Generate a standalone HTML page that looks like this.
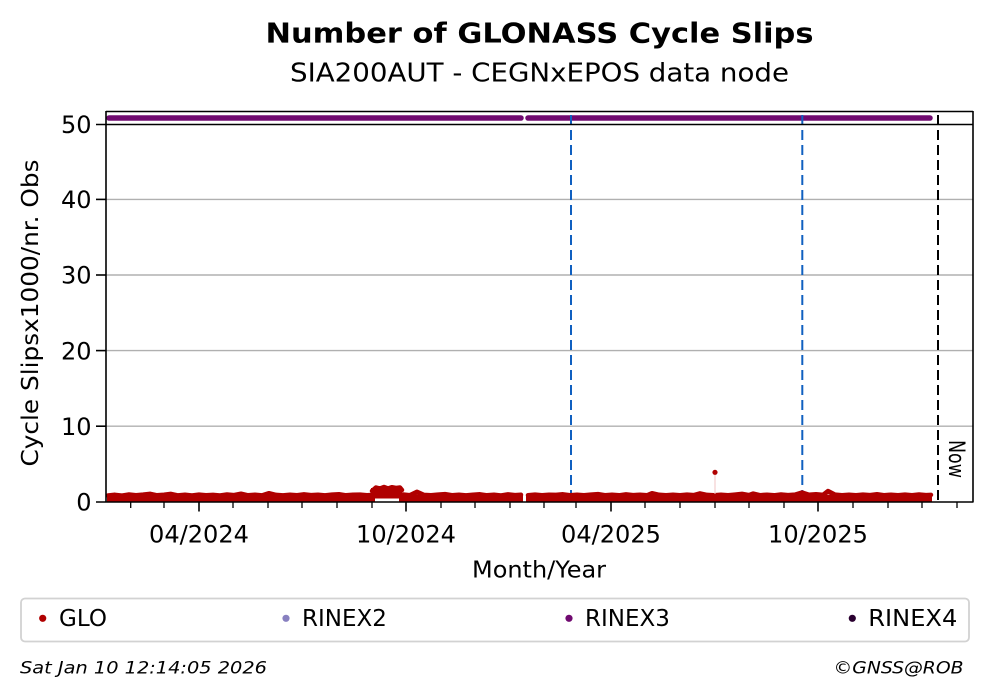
<!DOCTYPE html>
<html>
<head>
<meta charset="utf-8">
<style>
  html, body { margin: 0; padding: 0; background: #ffffff; }
  svg { display: block; }
  text { font-family: "DejaVu Sans", "Liberation Sans", sans-serif; fill: #000; }
</style>
</head>
<body>
<svg width="992" height="699" viewBox="0 0 992 699" xmlns="http://www.w3.org/2000/svg">
  <rect x="0" y="0" width="992" height="699" fill="#ffffff"/>

  <!-- Titles -->
  <text x="539.5" y="42.5" font-size="28" font-weight="bold" text-anchor="middle" textLength="548" lengthAdjust="spacingAndGlyphs">Number of GLONASS Cycle Slips</text>
  <text x="539.5" y="81.5" font-size="26" text-anchor="middle" textLength="499" lengthAdjust="spacingAndGlyphs">SIA200AUT - CEGNxEPOS data node</text>

  <!-- Gridlines -->
  <g stroke="#b0b0b0" stroke-width="1.4">
    <line x1="106" y1="199.4" x2="973" y2="199.4"/>
    <line x1="106" y1="275" x2="973" y2="275"/>
    <line x1="106" y1="350.6" x2="973" y2="350.6"/>
    <line x1="106" y1="426.2" x2="973" y2="426.2"/>
  </g>

  <!-- Purple RINEX3 strip -->
  <g stroke="#700a70" stroke-width="5.5" stroke-linecap="round">
    <line x1="109" y1="118" x2="521" y2="118"/>
    <line x1="528" y1="118" x2="930" y2="118"/>
  </g>

  <!-- Vertical dashed lines -->
  <g stroke-width="2" stroke-dasharray="10,5" fill="none">
    <line x1="571" y1="115" x2="571" y2="502" stroke="#1060c0"/>
    <line x1="802.3" y1="115" x2="802.3" y2="502" stroke="#1060c0"/>
    <line x1="938" y1="115" x2="938" y2="502" stroke="#000000"/>
  </g>

  <!-- Red GLO data -->
  <g fill="#b00000">
    <rect x="107" y="494.5" width="265" height="7.5"/>
    <rect x="371" y="488" width="31" height="10.5"/>
    <rect x="371" y="495" width="4" height="7"/>
    <rect x="399" y="495" width="4" height="7"/>
    <rect x="402" y="494.5" width="121" height="7.5"/>
    <rect x="526" y="494.5" width="406" height="7.5"/>
  </g>
  <g fill="none" stroke="#b00000" stroke-width="4.5" stroke-linejoin="round" stroke-linecap="round">
    <polyline points="108,495.5 115,494.8 122,495.6 129,494.5 136,495.2 143,494.6 150,493.8 157,495.3 164,494.7 171,493.9 178,495.4 185,494.8 192,495.5 199,494.6 206,495.2 213,494.9 220,495.5 227,494.5 234,495.1 241,493.7 248,495.3 255,494.8 262,495.4 269,493.2 276,494.9 283,495.4 290,494.7 297,495.2 304,494.3 311,495.1 318,494.8 325,495.4 332,494.6 339,494.2 346,495.3 353,494.8 360,494.6 367,495.2 371,495"/>
    <polyline points="372,491 376,487.5 380,488.5 384,487 388,488.5 392,487.2 396,488 400,487.5 402,490"/>
    <polyline points="403,494.5 410,495.2 417,491.8 424,494.9 431,495.3 438,494.6 445,494.1 452,495.2 459,494.8 466,495.4 473,494.7 480,494.3 487,495.3 494,494.8 501,495.5 508,494.4 515,495.1 521,494.8"/>
    <polyline points="528,495.2 535,494.6 542,495.3 549,494.7 556,494.9 563,494.3 570,495.2 577,494.8 584,495.3 591,494.6 598,494.1 605,495.2 612,494.7 619,495.3 626,494.4 633,495.1 640,494.8 647,495.3 652,493.2 659,494.8 666,495.3 673,494.7 680,495.2 687,494.6 694,495.1 700,493.4 707,494.9 714,495.3 721,494.7 728,495.2 735,494.6 742,493.9 749,495.1 753,493.6 760,495.2 767,494.7 774,495.3 781,494.5 788,495.1 795,494.6 802,492.5 809,494.8 816,494.2 823,494.9 828,491 835,494.6 842,495.2 849,494.7 856,495.3 863,494.6 870,495.1 877,494.2 884,495.2 891,494.7 898,495.3 905,494.6 912,495.2 919,494.5 926,495.1 931,494.9"/>
  </g>
  <line x1="715" y1="473" x2="715" y2="494" stroke="#f0c4c4" stroke-width="1"/>
  <circle cx="715" cy="472.3" r="2.6" fill="#b00000"/>

  <!-- Axes spines -->
  <g stroke="#000" stroke-width="1.6" fill="none">
    <line x1="106" y1="111.5" x2="973" y2="111.5"/>
    <line x1="96" y1="124.5" x2="973" y2="124.5"/>
    <line x1="106" y1="111" x2="106" y2="502.5"/>
    <line x1="973" y1="111" x2="973" y2="502.5"/>
    <line x1="96" y1="502" x2="973" y2="502"/>
  </g>

  <!-- Y ticks -->
  <g stroke="#000" stroke-width="1.6">
    <line x1="96" y1="199.4" x2="106" y2="199.4"/>
    <line x1="96" y1="275" x2="106" y2="275"/>
    <line x1="96" y1="350.6" x2="106" y2="350.6"/>
    <line x1="96" y1="426.2" x2="106" y2="426.2"/>
  </g>
  <g font-size="24" text-anchor="end">
    <text x="91.5" y="133">50</text>
    <text x="91.5" y="208">40</text>
    <text x="91.5" y="283.7">30</text>
    <text x="91.5" y="359.3">20</text>
    <text x="91.5" y="435">10</text>
    <text x="91.5" y="510.7">0</text>
  </g>

  <!-- X ticks -->
  <g stroke="#000" stroke-width="1.6">
    <line x1="199" y1="502" x2="199" y2="511.5"/>
    <line x1="406" y1="502" x2="406" y2="511.5"/>
    <line x1="611" y1="502" x2="611" y2="511.5"/>
    <line x1="818" y1="502" x2="818" y2="511.5"/>
  </g>
  <g stroke="#000" stroke-width="1.3">
    <line x1="130.7" y1="502" x2="130.7" y2="508"/>
    <line x1="164" y1="502" x2="164" y2="508"/>
    <line x1="233" y1="502" x2="233" y2="508"/>
    <line x1="268" y1="502" x2="268" y2="508"/>
    <line x1="302" y1="502" x2="302" y2="508"/>
    <line x1="337" y1="502" x2="337" y2="508"/>
    <line x1="372" y1="502" x2="372" y2="508"/>
    <line x1="441" y1="502" x2="441" y2="508"/>
    <line x1="475" y1="502" x2="475" y2="508"/>
    <line x1="510" y1="502" x2="510" y2="508"/>
    <line x1="544" y1="502" x2="544" y2="508"/>
    <line x1="576" y1="502" x2="576" y2="508"/>
    <line x1="645" y1="502" x2="645" y2="508"/>
    <line x1="680" y1="502" x2="680" y2="508"/>
    <line x1="715" y1="502" x2="715" y2="508"/>
    <line x1="749" y1="502" x2="749" y2="508"/>
    <line x1="784" y1="502" x2="784" y2="508"/>
    <line x1="853" y1="502" x2="853" y2="508"/>
    <line x1="888" y1="502" x2="888" y2="508"/>
    <line x1="922" y1="502" x2="922" y2="508"/>
    <line x1="957" y1="502" x2="957" y2="508"/>
  </g>
  <g font-size="24" text-anchor="middle">
    <text x="199" y="542.7" textLength="100" lengthAdjust="spacingAndGlyphs">04/2024</text>
    <text x="406" y="542.7" textLength="100" lengthAdjust="spacingAndGlyphs">10/2024</text>
    <text x="611" y="542.7" textLength="100" lengthAdjust="spacingAndGlyphs">04/2025</text>
    <text x="818" y="542.7" textLength="100" lengthAdjust="spacingAndGlyphs">10/2025</text>
  </g>

  <!-- Axis labels -->
  <text x="539" y="577.3" font-size="23.5" text-anchor="middle" textLength="134" lengthAdjust="spacingAndGlyphs">Month/Year</text>
  <text transform="translate(38,313) rotate(-90)" font-size="23" text-anchor="middle" textLength="307" lengthAdjust="spacingAndGlyphs">Cycle Slipsx1000/nr. Obs</text>

  <!-- Now label -->
  <text transform="translate(949,440) rotate(90)" font-size="22" textLength="38" lengthAdjust="spacingAndGlyphs">Now</text>

  <!-- Legend -->
  <rect x="21" y="598.5" width="948" height="43" rx="4" ry="4" fill="#ffffff" stroke="#d2d2d2" stroke-width="1.8"/>
  <circle cx="42.7" cy="618.3" r="3.6" fill="#b00000"/>
  <text x="59" y="626" font-size="23">GLO</text>
  <circle cx="286" cy="618.3" r="3.6" fill="#8880c0"/>
  <text x="302" y="626" font-size="23">RINEX2</text>
  <circle cx="569" cy="618.3" r="3.6" fill="#700a70"/>
  <text x="585" y="626" font-size="23">RINEX3</text>
  <circle cx="852.3" cy="618.3" r="3.6" fill="#2a0030"/>
  <text x="868.3" y="626" font-size="23" textLength="89" lengthAdjust="spacingAndGlyphs">RINEX4</text>

  <!-- Footer -->
  <text x="20" y="673.3" font-size="17" font-style="italic" textLength="247" lengthAdjust="spacingAndGlyphs">Sat Jan 10 12:14:05 2026</text>
  <text x="963.5" y="673.3" font-size="17" font-style="italic" text-anchor="end" textLength="130" lengthAdjust="spacingAndGlyphs">©GNSS@ROB</text>
</svg>
</body>
</html>
